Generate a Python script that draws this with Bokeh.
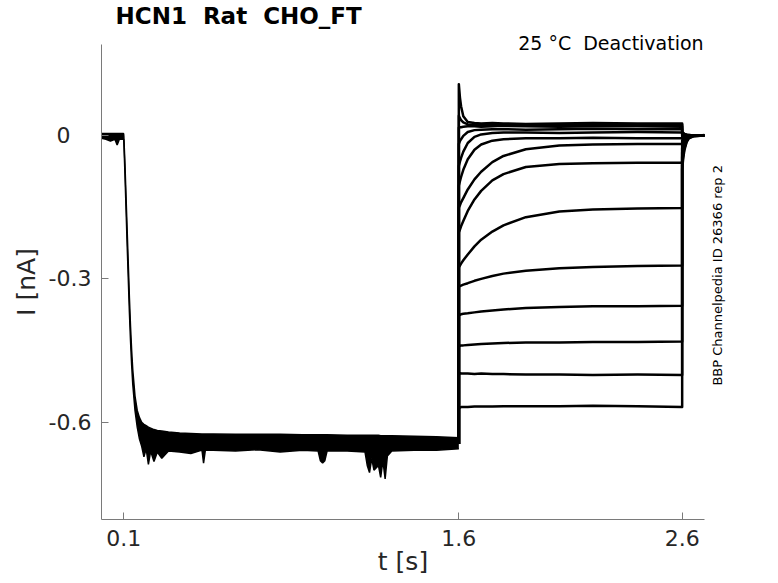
import math
from bokeh.plotting import figure
from bokeh.models import Range1d, FixedTicker, LinearAxis
from bokeh.embed import file_html
from bokeh.resources import INLINE

# ---------------- data ----------------
# shared activation phase: upper and lower edge of the thick band of overlapping sweeps
t_act = [0.0, 0.02, 0.04, 0.06, 0.07, 0.08, 0.099, 0.1, 0.105, 0.11, 0.115, 0.12, 0.125,
         0.13, 0.135, 0.14, 0.15, 0.16, 0.17, 0.18, 0.19, 0.2, 0.21, 0.22, 0.235, 0.25,
         0.27, 0.3, 0.35, 0.4, 0.45, 0.457, 0.465, 0.5, 0.6, 0.7, 0.8, 0.9, 0.97, 0.98,
         0.99, 1.0, 1.01, 1.1, 1.18, 1.19, 1.2, 1.21, 1.22, 1.24, 1.25, 1.26, 1.27, 1.28,
         1.3, 1.4, 1.5, 1.6]
i_act_upper = [0.004, 0.004, 0.004, 0.004, 0.004, 0.004, 0.004, -0.002, -0.06, -0.13, -0.2,
               -0.27, -0.34, -0.4, -0.45, -0.49, -0.545, -0.575, -0.59, -0.6, -0.604, -0.607,
               -0.61, -0.612, -0.615, -0.617, -0.618, -0.62, -0.622, -0.623, -0.624, -0.624,
               -0.624, -0.624, -0.625, -0.625, -0.625, -0.626, -0.626, -0.626, -0.626,
               -0.626, -0.626, -0.627, -0.627, -0.627, -0.627, -0.627, -0.627, -0.627,
               -0.628, -0.628, -0.628, -0.628, -0.628, -0.629, -0.63, -0.632]
i_act_lower = [-0.006, -0.008, -0.012, -0.008, -0.02, -0.008, -0.008, -0.012, -0.08, -0.155,
               -0.23, -0.3, -0.37, -0.43, -0.48, -0.52, -0.575, -0.61, -0.635, -0.65,
               -0.672, -0.655, -0.688, -0.66, -0.682, -0.662, -0.675, -0.66, -0.662, -0.665,
               -0.658, -0.685, -0.658, -0.658, -0.66, -0.657, -0.662, -0.658, -0.66, -0.68,
               -0.685, -0.68, -0.66, -0.66, -0.662, -0.69, -0.705, -0.675, -0.7, -0.69,
               -0.715, -0.68, -0.718, -0.67, -0.66, -0.658, -0.658, -0.655]
i_act_end = -0.645

# deactivation steps (1.6 s -> 2.6 s), one list per sweep
t_deact = [1.6, 1.605, 1.61, 1.62, 1.64, 1.67, 1.7, 1.75, 1.8, 1.9, 2.05, 2.2, 2.4, 2.6]
sweep_N = [0.107, 0.079, 0.061, 0.040, 0.028, 0.026, 0.025, 0.026, 0.025, 0.024, 0.025, 0.026, 0.025, 0.025]
sweep_M = [0.041, 0.036, 0.032, 0.027, 0.023, 0.022, 0.022, 0.021, 0.022, 0.023, 0.022, 0.021, 0.022, 0.022]
sweep_L = [0.016, 0.017, 0.017, 0.018, 0.019, 0.019, 0.018, 0.019, 0.020, 0.019, 0.018, 0.019, 0.019, 0.018]
sweep_K = [-0.018, -0.012, -0.008, -0.001, 0.007, 0.011, 0.012, 0.013, 0.013, 0.012, 0.013, 0.014, 0.013, 0.013]
sweep_J = [-0.064, -0.055, -0.047, -0.034, -0.016, -0.003, 0.002, 0.005, 0.006, 0.006, 0.005, 0.006, 0.007, 0.006]
sweep_I = [-0.105, -0.096, -0.087, -0.072, -0.050, -0.030, -0.019, -0.011, -0.008, -0.006, -0.006, -0.005, -0.006, -0.006]
sweep_H = [-0.151, -0.146, -0.140, -0.131, -0.113, -0.092, -0.076, -0.056, -0.043, -0.029, -0.021, -0.019, -0.018, -0.018]
sweep_G = [-0.203, -0.197, -0.190, -0.179, -0.158, -0.134, -0.116, -0.094, -0.081, -0.066, -0.060, -0.058, -0.057, -0.057]
sweep_F = [-0.276, -0.272, -0.268, -0.261, -0.249, -0.232, -0.218, -0.201, -0.188, -0.171, -0.159, -0.155, -0.153, -0.152]
sweep_E = [-0.316, -0.315, -0.314, -0.312, -0.309, -0.304, -0.300, -0.294, -0.289, -0.283, -0.278, -0.275, -0.273, -0.272]
sweep_D = [-0.376, -0.375, -0.374, -0.373, -0.372, -0.370, -0.368, -0.366, -0.364, -0.361, -0.359, -0.357, -0.357, -0.356]
sweep_C = [-0.440, -0.440, -0.439, -0.439, -0.438, -0.437, -0.436, -0.435, -0.434, -0.433, -0.433, -0.432, -0.432, -0.431]
sweep_B = [-0.497, -0.497, -0.498, -0.498, -0.498, -0.499, -0.498, -0.499, -0.499, -0.500, -0.500, -0.501, -0.500, -0.501]
sweep_A = [-0.569, -0.569, -0.568, -0.568, -0.568, -0.567, -0.567, -0.567, -0.566, -0.566, -0.566, -0.565, -0.566, -0.568]

# return to holding after 2.6 s
t_ret = [2.6, 2.605, 2.61, 2.62, 2.63, 2.65, 2.68, 2.7]
ret_A = [-0.070, -0.047, -0.031, -0.014, -0.006, -0.002, -0.001, 0.000]
ret_B = [-0.062, -0.041, -0.027, -0.012, -0.005, -0.002, -0.001, 0.000]
ret_C = [-0.054, -0.036, -0.024, -0.010, -0.004, -0.001, 0.000, 0.000]
ret_D = [-0.045, -0.030, -0.020, -0.009, -0.004, -0.001, 0.000, 0.001]
ret_E = [-0.036, -0.024, -0.016, -0.007, -0.003, -0.001, 0.000, 0.000]
ret_F = [-0.027, -0.018, -0.012, -0.005, -0.002, 0.000, 0.000, 0.000]
ret_G = [-0.018, -0.012, -0.008, -0.004, -0.002, 0.000, 0.000, 0.000]
ret_H = [-0.010, -0.007, -0.005, -0.002, -0.001, 0.000, 0.000, 0.000]
ret_I = [-0.006, -0.004, -0.003, -0.002, -0.001, 0.000, 0.000, 0.000]
ret_J = [-0.002, -0.001, -0.001, 0.000, 0.000, 0.000, 0.000, 0.000]
ret_K = [0.002, 0.002, 0.001, 0.001, 0.000, 0.000, 0.000, 0.000]
ret_L = [0.004, 0.003, 0.002, 0.001, 0.000, 0.000, 0.000, 0.000]
ret_M = [0.006, 0.004, 0.003, 0.001, 0.001, 0.000, 0.000, 0.000]
ret_N = [0.008, 0.005, 0.003, 0.001, 0.001, 0.000, 0.000, 0.000]

sweeps = [(sweep_A, ret_A), (sweep_B, ret_B), (sweep_C, ret_C), (sweep_D, ret_D),
          (sweep_E, ret_E), (sweep_F, ret_F), (sweep_G, ret_G), (sweep_H, ret_H),
          (sweep_I, ret_I), (sweep_J, ret_J), (sweep_K, ret_K), (sweep_L, ret_L),
          (sweep_M, ret_M), (sweep_N, ret_N)]

x_ticks = [0.1, 1.6, 2.6]
x_tick_labels = ["0.1", "1.6", "2.6"]
y_ticks = [-0.6, -0.3, 0.0]
# "0" is padded (punctuation space + figure space) so its digit sits where the reference puts it
y_tick_labels = ["-0.6", "-0.3", "0\u2008\u2007"]

title_text = "HCN1 \u00a0Rat \u00a0CHO_FT"
condition_text = "25 °C \u00a0Deactivation"
condition_x = 2.281          # centre of the condition text, in seconds
source_text = "BBP Channelpedia ID 26366 rep 2"
source_y = -0.523            # start of the side note, in nA
x_label = "t [s]"
y_label = "I [nA]"

# ---------------- figure ----------------
FONT = "DejaVu Sans"
TXT = "#262626"
LINE = "#7a7a7a"

p = figure(width=776, height=582, output_backend="svg", toolbar_location=None,
           x_range=Range1d(0, 2.7), y_range=Range1d(-0.803, 0.19),
           min_border_left=101, min_border_right=72, min_border_top=44, min_border_bottom=63)
p.outline_line_color = None
p.background_fill_color = "white"
p.border_fill_color = "white"
p.xgrid.visible = False
p.ygrid.visible = False

for ax in (p.xaxis[0], p.yaxis[0]):
    ax.axis_line_color = LINE
    ax.axis_line_width = 1
    ax.major_tick_line_color = LINE
    ax.major_tick_in = 7
    ax.major_tick_out = 0
    ax.minor_tick_line_color = None
    ax.major_label_text_font = FONT
    ax.major_label_text_font_size = "22px"
    ax.major_label_text_color = TXT
    ax.axis_label_text_font = FONT
    ax.axis_label_text_font_size = "25px"
    ax.axis_label_text_font_style = "normal"
    ax.axis_label_text_color = TXT

p.xaxis.ticker = FixedTicker(ticks=x_ticks)
p.xaxis.major_label_overrides = dict(zip(x_ticks, x_tick_labels))
p.xaxis.major_label_standoff = 10
p.xaxis.axis_label = x_label
p.xaxis.axis_label_standoff = -2

p.yaxis.ticker = FixedTicker(ticks=y_ticks)
p.yaxis.major_label_overrides = dict(zip(y_ticks, y_tick_labels))
p.yaxis.major_label_standoff = 10
p.yaxis.axis_label = y_label
p.yaxis.axis_label_standoff = 5

# condition text carried by an axis above the frame (not clipped by the frame)
top_ax = LinearAxis(ticker=FixedTicker(ticks=[condition_x]),
                    major_label_overrides={condition_x: condition_text},
                    axis_line_color=None, major_tick_line_color=None,
                    minor_tick_line_color=None, major_tick_in=0, major_tick_out=0,
                    major_label_standoff=-9, major_label_text_font=FONT,
                    major_label_text_font_size="19px", major_label_text_color="black")
p.add_layout(top_ax, "above")

# side note carried by an axis on the right
side_ax = LinearAxis(ticker=FixedTicker(ticks=[source_y]),
                     major_label_overrides={source_y: source_text},
                     axis_line_color=None, major_tick_line_color=None,
                     minor_tick_line_color=None, major_tick_in=0, major_tick_out=0,
                     major_label_standoff=13, major_label_orientation=math.pi / 2,
                     major_label_text_font=FONT, major_label_text_font_size="13px",
                     major_label_text_color="black")
p.add_layout(side_ax, "right")

# title
p.title.text = title_text
p.title.text_font = FONT
p.title.text_font_size = "23px"
p.title.text_font_style = "bold"
p.title.text_color = "black"
p.title.align = "left"
p.title.offset = 14
p.title.standoff = 0

# activation band
p.varea(x=t_act, y1=i_act_lower, y2=i_act_upper, fill_color="black")
p.line(t_act, i_act_upper, line_color="black", line_width=1.5)
p.line(t_act, i_act_lower, line_color="black", line_width=1.5)

# deactivation sweeps
for deact, ret in sweeps:
    xs = [t_deact[0]] + t_deact + t_ret
    ys = [i_act_end] + deact + ret
    p.line(xs, ys, line_color="black", line_width=2.5, line_join="round")

open("out.html", "w").write(file_html(p, INLINE))
